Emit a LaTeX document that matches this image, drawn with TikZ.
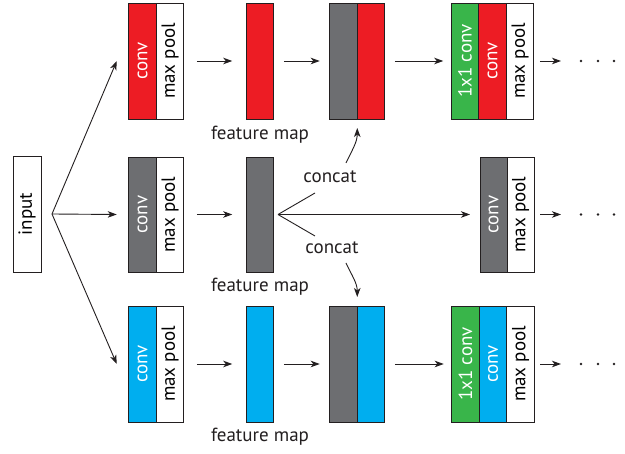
\documentclass[tikz,border=0pt]{standalone}
\usepackage{fontspec}
\setmainfont{PT Sans}
\usetikzlibrary{arrows.meta}
\definecolor{cred}{HTML}{ED1C24}
\definecolor{cgray}{HTML}{6D6E71}
\definecolor{ccyan}{HTML}{00AEEF}
\definecolor{cgreen}{HTML}{39B54A}
\definecolor{edge}{HTML}{231F20}
\newcommand\labfont{\fontsize{19}{19}\selectfont}
\begin{document}
\begin{tikzpicture}[x=1pt,y=-1pt,
  cell/.style={draw=edge, line width=0.9pt, minimum width=27.5pt, minimum height=116pt,
               inner sep=0pt, outer sep=0pt},
  wt/.style={rotate=90, text=white, font=\labfont, inner sep=0pt},
  bt/.style={rotate=90, text=black, font=\labfont, inner sep=0pt},
  lab/.style={font=\labfont, inner sep=0pt, text=edge},
  arr/.style={draw=edge, line width=0.9pt, -{Stealth[length=9pt,width=6.5pt,inset=2.5pt]}},
  ln/.style={draw=edge, line width=0.9pt}]
\useasboundingbox (0,0) rectangle (625,454);

% input
\node[cell, fill=white, minimum width=28pt, label={[bt]center:input}] (in) at (27,214) {};
\coordinate (fan) at (52,214);

% ---- top branch ----
\node[cell, fill=cred, label={[wt]center:conv}] (t1a) at (142.5,61) {};
\node[cell, fill=white, label={[bt]center:max pool}] (t1b) at (170,61) {};
\node[cell, fill=cred] (t2) at (260,61) {};
\node[lab] (tfm) at (260,135) {feature map};
\node[cell, fill=cgray] (tc1) at (343.5,61) {};
\node[cell, fill=cred] (tc2) at (371,61) {};
\node[cell, fill=cgreen, label={[wt]center:1x1 conv}] (t3a) at (465,61) {};
\node[cell, fill=cred, label={[wt]center:conv}] (t3b) at (492.5,61) {};
\node[cell, fill=white, label={[bt]center:max pool}] (t3c) at (520,61) {};
\coordinate (tend) at (561,61);

% ---- middle branch ----
\node[cell, fill=cgray, minimum height=115pt, label={[wt]center:conv}] (m1a) at (142.5,214.5) {};
\node[cell, fill=white, minimum height=115pt, label={[bt]center:max pool}] (m1b) at (170,214.5) {};
\node[cell, fill=cgray, minimum height=115pt] (m2) at (260,214.5) {};
\node[lab] (mfm) at (260,287) {feature map};
\node[cell, fill=cgray, minimum width=27pt, minimum height=115pt, label={[wt]center:conv}] (r1a) at (493.5,214.5) {};
\node[cell, fill=white, minimum width=27pt, minimum height=115pt, label={[bt]center:max pool}] (r1b) at (520.5,214.5) {};
\coordinate (mend) at (561,214.5);
\coordinate (mfan) at (278,214.5);
\coordinate (up) at (315,193);
\coordinate (dn) at (315,236);
\node[lab] (cat1) at (330,177) {concat};
\node[lab] (cat2) at (332,248) {concat};
\coordinate (cat1s) at (346,163);
\coordinate (cat2s) at (346,263);

% ---- bottom branch ----
\node[cell, fill=ccyan, label={[wt]center:conv}] (b1a) at (142.5,364) {};
\node[cell, fill=white, label={[bt]center:max pool}] (b1b) at (170,364) {};
\node[cell, fill=ccyan] (b2) at (260,364) {};
\node[lab] (bfm) at (260,437) {feature map};
\node[cell, fill=cgray] (bc1) at (343.5,364) {};
\node[cell, fill=ccyan] (bc2) at (371,364) {};
\node[cell, fill=cgreen, label={[wt]center:1x1 conv}] (b3a) at (465.5,364) {};
\node[cell, fill=ccyan, label={[wt]center:conv}] (b3b) at (493,364) {};
\node[cell, fill=white, label={[bt]center:max pool}] (b3c) at (520.5,364) {};
\coordinate (bend) at (561,364);

% input fan-out
\draw[arr] (fan) -- ([xshift=-12pt]t1a.west);
\draw[arr] (fan) -- ([xshift=-12pt]m1a.west);
\draw[arr] (fan) -- ([xshift=-12pt]b1a.west);

% top chain
\draw[arr] ([xshift=13pt]t1b.east) -- ([xshift=-14pt]t2.west);
\draw[arr] ([xshift=10pt]t2.east) -- ([xshift=-10pt]tc1.west);
\draw[arr] ([xshift=10pt]tc2.east) -- ([xshift=-8pt]t3a.west);
\draw[arr] ([xshift=6pt]t3c.east) -- (tend);

% middle chain
\draw[arr] ([xshift=13pt]m1b.east) -- ([xshift=-14pt]m2.west);
\draw[arr] (mfan) -- ([xshift=-10pt]r1a.west);
\draw[ln] (mfan) -- (up);
\draw[ln] (mfan) -- (dn);
\draw[arr] ([xshift=6pt]r1b.east) -- (mend);
\draw[arr] (cat1s) to[out=65,in=-90] ([yshift=-9pt]tc1.south east);
\draw[arr] (cat2s) to[out=-65,in=90] ([yshift=9pt]bc1.north east);

% bottom chain
\draw[arr] ([xshift=13pt]b1b.east) -- ([xshift=-14pt]b2.west);
\draw[arr] ([xshift=10pt]b2.east) -- ([xshift=-10pt]bc1.west);
\draw[arr] ([xshift=10pt]bc2.east) -- ([xshift=-8pt]b3a.west);
\draw[arr] ([xshift=6pt]b3c.east) -- (bend);

% continuation dots
\foreach \yy in {61,214.5,364}{
  \foreach \xx in {581,598,614}{
    \fill[edge] (\xx,\yy) circle (1.3pt);
  }
}
\end{tikzpicture}
\end{document}
